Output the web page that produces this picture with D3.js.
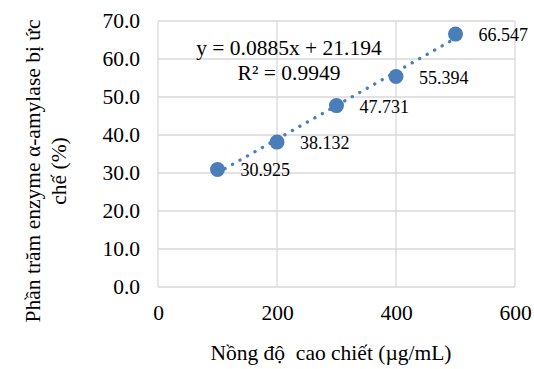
<!DOCTYPE html>
<html>
<head>
<meta charset="utf-8">
<script src="https://cdn.jsdelivr.net/npm/d3@7"></script>
<style>
  body { margin: 0; background: #fff; }
  text { font-family: "Liberation Serif", "Times New Roman", serif; fill: #000; }
</style>
</head>
<body>
<div id="chart"></div>
<script>
// data
const concentrations = [100, 200, 300, 400, 500];
const inhibition = [30.925, 38.132, 47.731, 55.394, 66.547];
const pointLabels = ["30.925", "38.132", "47.731", "55.394", "66.547"];
const trendSlope = 0.0885;
const trendIntercept = 21.194;
const equationLines = ["y = 0.0885x + 21.194", "R² = 0.9949"];
const xTicks = [0, 200, 400, 600];
const yTicks = [0, 10, 20, 30, 40, 50, 60, 70];

const width = 534, height = 369;
const margin = { top: 21, right: 19, bottom: 82, left: 158 };

const svg = d3.select("#chart").append("svg")
  .attr("width", width)
  .attr("height", height);

const x = d3.scaleLinear().domain([0, 600]).range([margin.left, width - margin.right]);
const y = d3.scaleLinear().domain([0, 70]).range([height - margin.bottom, margin.top]);

const grid = "#d9d9d9";

// gridlines
svg.append("g")
  .selectAll("line")
  .data(yTicks)
  .join("line")
  .attr("x1", x(0)).attr("x2", x(600))
  .attr("y1", (d) => y(d)).attr("y2", (d) => y(d))
  .attr("stroke", grid).attr("stroke-width", 1.3);

svg.append("g")
  .selectAll("line")
  .data(xTicks)
  .join("line")
  .attr("x1", (d) => x(d)).attr("x2", (d) => x(d))
  .attr("y1", y(0)).attr("y2", y(70))
  .attr("stroke", grid).attr("stroke-width", 1.3);

// axes (labels only, Excel style)
const yAxis = svg.append("g")
  .attr("transform", `translate(${x(0)},0)`)
  .call(d3.axisLeft(y).tickValues(yTicks).tickFormat(d3.format(".1f")).tickSize(0).tickPadding(18));
yAxis.select(".domain").remove();
yAxis.selectAll("text").attr("font-size", 21.5).attr("font-family", "Liberation Serif").attr("fill", "#000");

const xAxis = svg.append("g")
  .attr("transform", `translate(0,${y(0)})`)
  .call(d3.axisBottom(x).tickValues(xTicks).tickFormat(d3.format("d")).tickSize(0).tickPadding(17.5));
xAxis.select(".domain").remove();
xAxis.selectAll("text").attr("font-size", 21.5).attr("font-family", "Liberation Serif").attr("fill", "#000");

// trendline (dotted)
const color = "#4a7ebb";
const trend = d3.line()
  .x((d) => x(d))
  .y((d) => y(trendSlope * d + trendIntercept));
svg.append("path")
  .attr("d", trend([concentrations[0], concentrations[concentrations.length - 1]]))
  .attr("fill", "none")
  .attr("stroke", color)
  .attr("stroke-width", 3.3)
  .attr("stroke-linecap", "round")
  .attr("stroke-dasharray", "0.1 8.5");

// points
svg.append("g")
  .selectAll("circle")
  .data(concentrations)
  .join("circle")
  .attr("cx", (d) => x(d))
  .attr("cy", (d, i) => y(inhibition[i]))
  .attr("r", 7.5)
  .attr("fill", color);

// data labels
svg.append("g")
  .selectAll("text")
  .data(concentrations)
  .join("text")
  .attr("x", (d) => x(d) + 23)
  .attr("y", (d, i) => y(inhibition[i]) + 7)
  .attr("font-size", 18)
  .text((d, i) => pointLabels[i]);

// equation
svg.append("g")
  .selectAll("text")
  .data(equationLines)
  .join("text")
  .attr("x", 289)
  .attr("y", (d, i) => 55 + i * 25)
  .attr("text-anchor", "middle")
  .attr("font-size", 21.5)
  .text((d) => d);

// axis titles
svg.append("text")
  .attr("x", 331)
  .attr("y", 360)
  .attr("text-anchor", "middle")
  .attr("font-size", 21.5)
  .style("white-space", "pre")
  .text("Nồng độ  cao chiết (µg/mL)");

const yTitle = svg.append("text")
  .attr("transform", "translate(40,171) rotate(-90)")
  .attr("text-anchor", "middle")
  .attr("font-size", 21.5);
yTitle.append("tspan").attr("x", 0).attr("dy", 0).text("Phần trăm enzyme α-amylase bị ức");
yTitle.append("tspan").attr("x", 0).attr("dy", 26).text("chế (%)");
</script>
</body>
</html>
